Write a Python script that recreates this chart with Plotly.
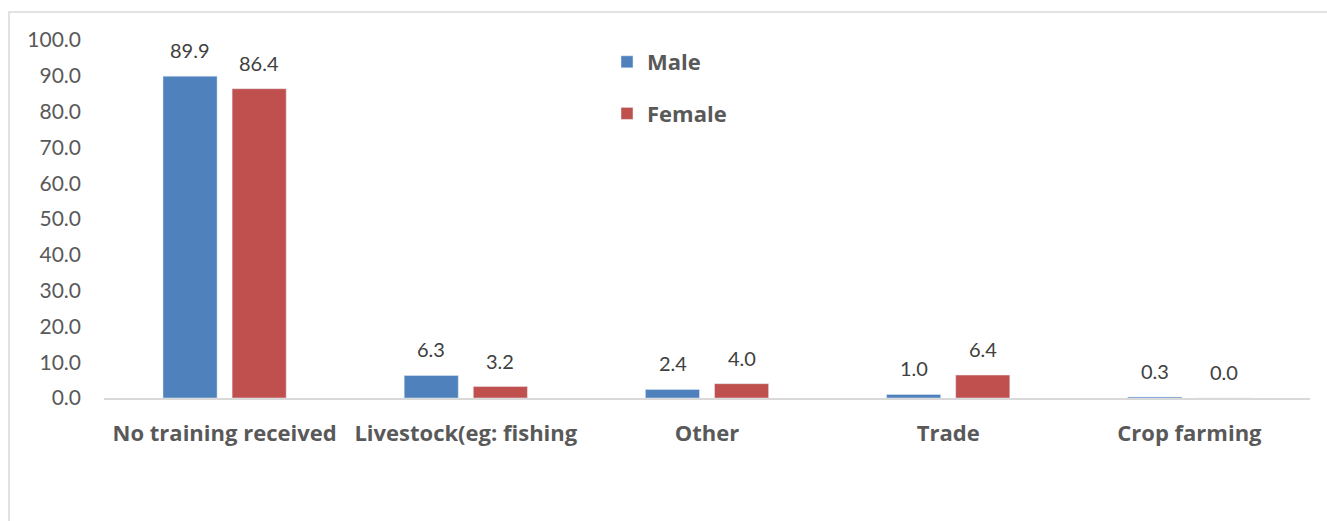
import plotly.graph_objects as go

categories = ["No training received", "Livestock(eg: fishing", "Other", "Trade", "Crop farming"]
male = [89.9, 6.3, 2.4, 1.0, 0.3]
female = [86.4, 3.2, 4.0, 6.4, 0.0]
y_ticks = [0, 10, 20, 30, 40, 50, 60, 70, 80, 90, 100]
y_tick_labels = [f"{v:.1f}" for v in y_ticks]

MALE_C = "#4F81BD"
FEMALE_C = "#C0504D"
FONT = "Lato"
BOLD_FONT = "Open Sans"

fig = go.Figure()
fig.add_trace(go.Bar(x=categories, y=male, name="Male", marker_color=MALE_C,
                     legendgroup="m", hoverinfo="skip"))
fig.add_trace(go.Bar(x=categories, y=female, name="Female", marker_color=FEMALE_C,
                     legendgroup="f", hoverinfo="skip"))

annotations = []
for cat, m, f in zip(categories, male, female):
    for val, shift in ((m, -34.5), (f, 34.5)):
        annotations.append(dict(x=cat, y=val, xref="x", yref="y", text=f"{val:.1f}",
                                showarrow=False, xshift=shift, yshift=26,
                                yanchor="middle",
                                font=dict(family=FONT, size=20, color="#404040")))

W, H = 1327, 521
ml, mr, mt, mb = 104, 17, 40, 123
pw, ph = W - ml - mr, H - mt - mb

fig.update_layout(
    width=W, height=H,
    margin=dict(l=ml, r=mr, t=mt, b=mb),
    paper_bgcolor="white", plot_bgcolor="white",
    barmode="group", bargap=0.427, bargroupgap=0.217,
    showlegend=True,
    legend=dict(x=(607 - ml) / pw, y=1 - (41 - mt) / ph, xanchor="left", yanchor="top",
                font=dict(family=BOLD_FONT, size=22, color="#595959", weight="bold"),
                tracegroupgap=20, bgcolor="rgba(0,0,0,0)"),
    annotations=annotations,
    xaxis=dict(showgrid=False, showline=True, linecolor="#D9D9D9", linewidth=1.5,
               ticks="", ticklabelstandoff=15,
               tickfont=dict(family=BOLD_FONT, size=22, color="#595959", weight="bold"),
               fixedrange=True),
    yaxis=dict(range=[0, 100], tickvals=y_ticks, ticktext=y_tick_labels,
               showgrid=False, zeroline=False, showline=False, ticks="",
               ticklabelstandoff=22,
               tickfont=dict(family=FONT, size=21, color="#595959"),
               fixedrange=True),
    shapes=[dict(type="rect", xref="paper", yref="paper",
                 x0=(9 - ml) / pw, x1=(W + 20 - ml) / pw,
                 y0=-(mb + 20) / ph, y1=1 + (mt - 12) / ph,
                 line=dict(color="#D9D9D9", width=1.5), layer="below")],
)

fig.write_html("out.html")
